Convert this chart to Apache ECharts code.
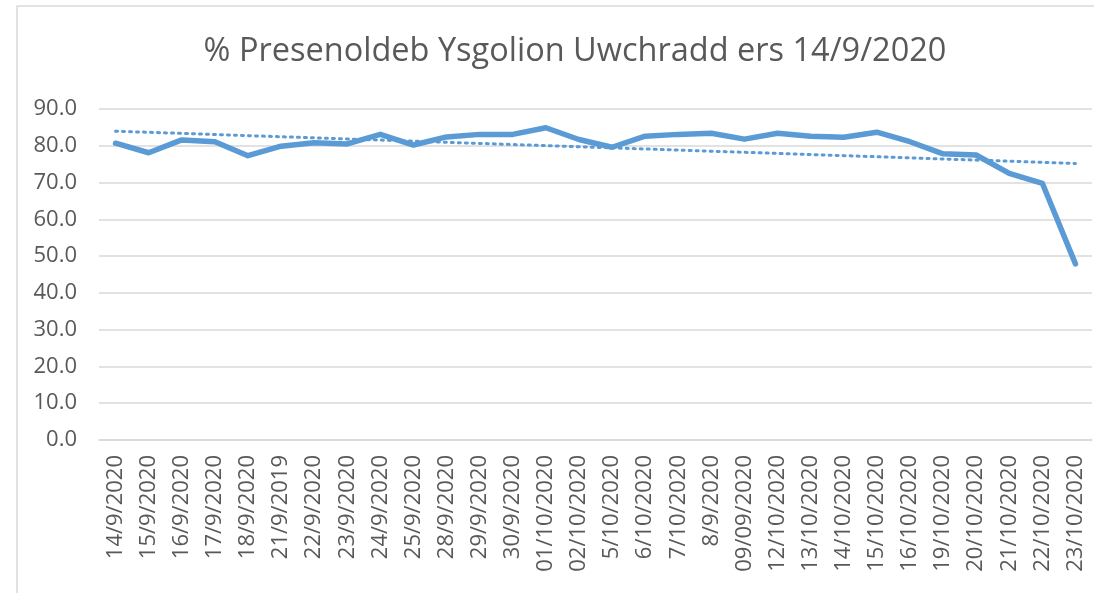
<!DOCTYPE html>
<html>
<head>
<meta charset="utf-8">
<title>% Presenoldeb Ysgolion Uwchradd</title>
<script src="https://cdn.jsdelivr.net/npm/echarts@6/dist/echarts.min.js"></script>
<style>
  html, body { margin: 0; padding: 0; background: #fff; }
  #main { width: 1094px; height: 593px; }
</style>
</head>
<body>
<div id="main"></div>
<script>
// dyddiadau (categories)
const dates = [
  '14/9/2020', '15/9/2020', '16/9/2020', '17/9/2020', '18/9/2020',
  '21/9/2019', '22/9/2020', '23/9/2020', '24/9/2020', '25/9/2020',
  '28/9/2020', '29/9/2020', '30/9/2020', '01/10/2020', '02/10/2020',
  '5/10/2020', '6/10/2020', '7/10/2020', '8/9/2020', '09/09/2020',
  '12/10/2020', '13/10/2020', '14/10/2020', '15/10/2020', '16/10/2020',
  '19/10/2020', '20/10/2020', '21/10/2020', '22/10/2020', '23/10/2020'
];

// % presenoldeb
const attendance = [
  80.7, 78.1, 81.6, 81.1, 77.3, 79.9, 80.8, 80.5, 83.1, 80.2,
  82.4, 83.1, 83.1, 84.9, 81.7, 79.6, 82.6, 83.1, 83.4, 81.8,
  83.4, 82.6, 82.3, 83.7, 81.1, 77.8, 77.5, 72.5, 69.8, 47.9
];

const yTicks = [0, 10, 20, 30, 40, 50, 60, 70, 80, 90];

// linear trendline (least squares) like Excel's
function linearTrend(vals) {
  const n = vals.length;
  let sx = 0, sy = 0, sxy = 0, sxx = 0;
  vals.forEach((v, i) => { sx += i; sy += v; sxy += i * v; sxx += i * i; });
  const b = (n * sxy - sx * sy) / (n * sxx - sx * sx);
  const a = (sy - b * sx) / n;
  return vals.map((v, i) => +(a + b * i).toFixed(2));
}
const trend = linearTrend(attendance);

const blue = '#5B9BD5';
const textGrey = '#595959';
const font = '"Open Sans", "Noto Sans", sans-serif';

const chart = echarts.init(document.getElementById('main'));
chart.setOption({
  animation: false,
  backgroundColor: '#fff',
  textStyle: { fontFamily: font },
  graphic: [{
    // ffrâm y siart
    type: 'rect',
    shape: { x: 17, y: 6, width: 1100, height: 620 },
    style: { fill: 'none', stroke: '#d9d9d9', lineWidth: 1.5 },
    silent: true
  }],
  title: {
    text: '% Presenoldeb Ysgolion Uwchradd ers 14/9/2020',
    left: 570,
    textAlign: 'center',
    top: 30,
    textStyle: { color: textGrey, fontSize: 32.5, fontWeight: 'normal', fontFamily: font }
  },
  grid: { left: 99, right: 2, top: 109, bottom: 153 },
  xAxis: {
    type: 'category',
    data: dates,
    boundaryGap: true,
    axisLine: { lineStyle: { color: '#d9d9d9', width: 1.5 } },
    axisTick: { show: false },
    axisLabel: { rotate: 90, interval: 0, margin: 15, color: textGrey, fontSize: 22, fontFamily: font }
  },
  yAxis: {
    type: 'value',
    min: yTicks[0],
    max: yTicks[yTicks.length - 1],
    interval: 10,
    axisLine: { show: false },
    axisTick: { show: false },
    splitLine: { lineStyle: { color: '#d9d9d9', width: 1.5 } },
    axisLabel: {
      margin: 22, color: textGrey, fontSize: 22, fontFamily: font,
      formatter: v => v.toFixed(1)
    }
  },
  series: [
    {
      name: 'Presenoldeb',
      type: 'line',
      data: attendance,
      symbol: 'none',
      lineStyle: { color: blue, width: 5.5, join: 'round', cap: 'round' },
      z: 3
    },
    {
      name: 'Llinell duedd',
      type: 'line',
      data: trend,
      symbol: 'none',
      lineStyle: { color: blue, width: 3, type: [2, 5], cap: 'round' },
      z: 2
    }
  ]
});
</script>
</body>
</html>
